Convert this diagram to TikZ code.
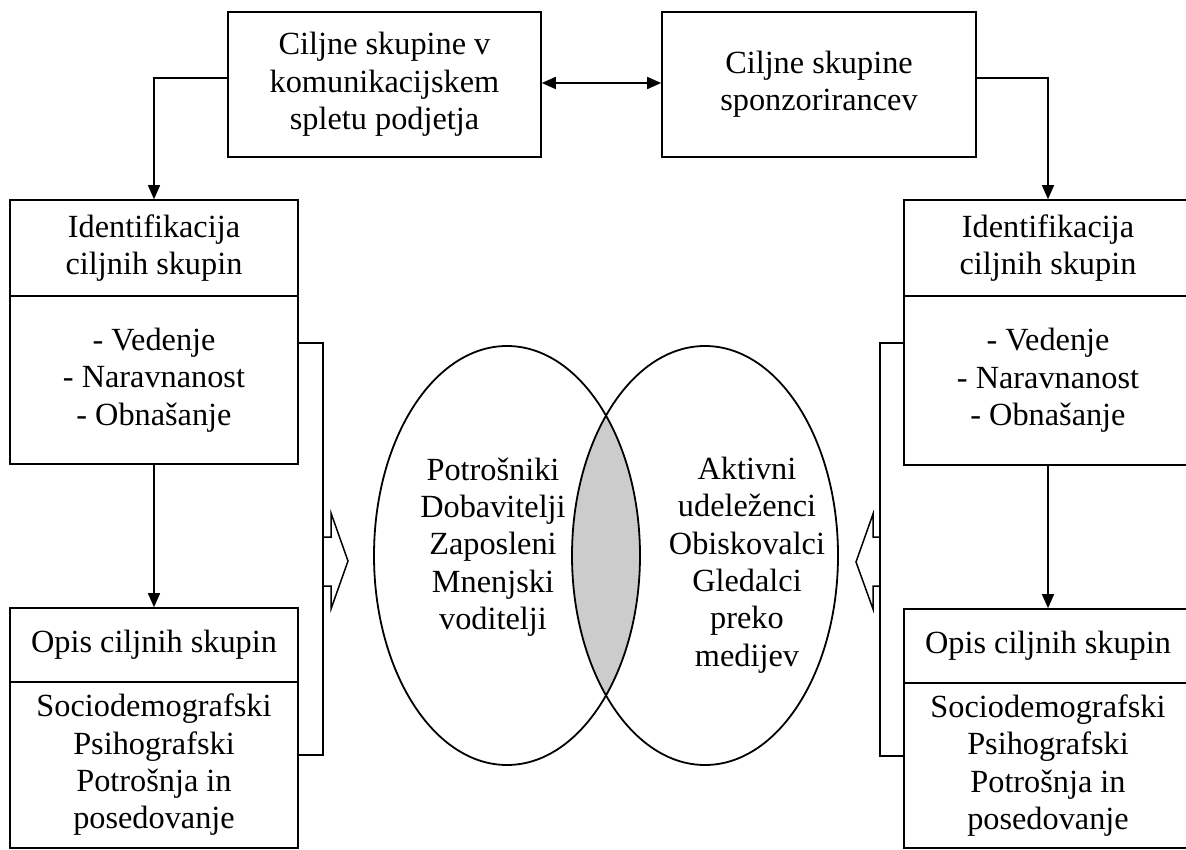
\documentclass[tikz,border=0pt]{standalone}
\usepackage{fontspec}
\setmainfont{Liberation Serif}
\usetikzlibrary{arrows.meta}
\tikzset{
  lbl/.style={font=\fontsize{32.3}{37.3}\selectfont, align=center},
  box/.style={lbl, draw, line width=1.6pt, rectangle, inner sep=0pt},
  txt/.style={lbl, inner sep=0pt},
  conn/.style={line width=1.4pt, -{Triangle[length=14pt,width=12pt]}},
  dconn/.style={line width=1.6pt, {Triangle[length=14pt,width=12pt]}-{Triangle[length=14pt,width=12pt]}},
  bracket/.style={line width=1.5pt},
  hollow/.style={line width=1.5pt, line join=miter},
  venn/.style={line width=1.8pt}
}
\begin{document}
\begin{tikzpicture}[x=1pt,y=-1pt]
\useasboundingbox (0,0) rectangle (1186,850);
\begin{scope}
\clip (0,0) rectangle (1186,850);
% top boxes
\node[box, minimum width=313pt, minimum height=145pt] (tl) at (384.5,84.5) {Ciljne skupine v\\komunikacijskem\\spletu podjetja};
\node[box, minimum width=314pt, minimum height=145pt] (tr) at (819,84.5) {Ciljne skupine\\sponzorirancev};
% left column
\node[box, minimum width=288pt, minimum height=96pt] (lid) at (154,248) {Identifikacija\\ciljnih skupin};
\node[box, minimum width=288pt, minimum height=168pt] (lvd) at (154,380) {- Vedenje\\- Naravnanost\\- Obnašanje};
\node[box, minimum width=288pt, minimum height=74pt] (lop) at (154,645) {Opis ciljnih skupin};
\node[box, minimum width=288pt, minimum height=166pt] (lsd) at (154,765) {Sociodemografski\\Psihografski\\Potrošnja in\\posedovanje};
% right column
\node[box, minimum width=288pt, minimum height=96pt] (rid) at (1048,248) {Identifikacija\\ciljnih skupin};
\node[box, minimum width=288pt, minimum height=169pt] (rvd) at (1048,380.5) {- Vedenje\\- Naravnanost\\- Obnašanje};
\node[box, minimum width=288pt, minimum height=74pt] (rop) at (1048,646) {Opis ciljnih skupin};
\node[box, minimum width=288pt, minimum height=165pt] (rsd) at (1048,765.5) {Sociodemografski\\Psihografski\\Potrošnja in\\posedovanje};
% connectors
\draw[conn] ([yshift=6.5pt]tl.west) -| (lid.north);
\draw[conn] ([yshift=6.5pt]tr.east) -| (rid.north);
\draw[dconn] ([yshift=1.5pt]tl.east) -- ([yshift=1.5pt]tr.west);
\draw[conn] (lvd.south) -- (lop.north);
\draw[conn] (rvd.south) -- (rop.north);
% brackets
\coordinate (lb1) at (323,343);
\coordinate (lb2) at (323,755);
\coordinate (rb1) at (880,343);
\coordinate (rb2) at (880,756);
\draw[bracket] (lvd.east |- lb1) -- (lb1) -- (lb2) -- (lsd.east |- lb2);
\draw[bracket] (rvd.west |- rb1) -- (rb1) -- (rb2) -- (rsd.west |- rb2);
% hollow arrows
\draw[hollow] (323,537) -- (331,537) -- (331,513) -- (348,561) -- (331,609) -- (331,586) -- (323,586);
\draw[hollow] (880,537) -- (873,537) -- (873,514) -- (856,562) -- (873,609) -- (873,586) -- (880,586);
% venn
\begin{scope}
\clip (507,555.5) ellipse [x radius=133, y radius=209.5];
\fill[black!20] (705,555.5) ellipse [x radius=133, y radius=209.5];
\end{scope}
\draw[venn] (507,555.5) ellipse [x radius=133, y radius=209.5];
\draw[venn] (705,555.5) ellipse [x radius=133, y radius=209.5];
\node[txt] (le) at (493,547) {Potrošniki\\Dobavitelji\\Zaposleni\\Mnenjski\\voditelji};
\node[txt] (re) at (747,565) {Aktivni\\udeleženci\\Obiskovalci\\Gledalci\\preko\\medijev};
\end{scope}
\end{tikzpicture}
\end{document}
